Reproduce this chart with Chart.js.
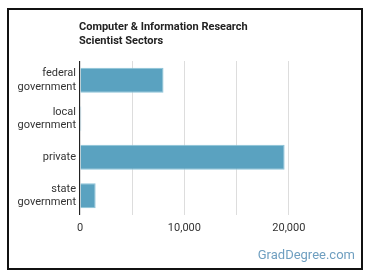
<!DOCTYPE html>
<html>
<head>
<meta charset="utf-8">
<script src="https://cdn.jsdelivr.net/npm/chart.js@4"></script>
<style>
  html, body { margin: 0; padding: 0; background: #fff; }
  #wrap { position: relative; width: 370px; height: 278px; overflow: hidden; }
  #frame { position: absolute; left: 7px; top: 8px; width: 352px; height: 258px; border: 2px solid #111; }
  #title { position: absolute; left: 79px; top: 20px; font: bold 11px Roboto, sans-serif; line-height: 14px; color: #222; }
  #brand { position: absolute; right: 15px; top: 247px; font: 13px Roboto, sans-serif; color: #6f9fc0; }
  canvas { position: absolute; left: 0; top: 0; }
</style>
</head>
<body>
<div id="wrap">
  <div id="frame"></div>
  <canvas id="c" width="370" height="278"></canvas>
  <div id="title">Computer &amp; Information Research<br>Scientist Sectors</div>
  <div id="brand">GradDegree.com</div>
</div>
<script>
const categories = [["federal", "government"], ["local", "government"], ["private"], ["state", "government"]];
const workers = [8000, 120, 19600, 1500];
const tickValues = [0, 5000, 10000, 15000, 20000];
const labeledTicks = [0, 10000, 20000];

const axisLine = {
  id: 'axisLine',
  afterDatasetsDraw(chart) {
    const { ctx, chartArea } = chart;
    const x = chart.scales.x.getPixelForValue(0);
    ctx.save();
    ctx.strokeStyle = '#222';
    ctx.lineWidth = 1;
    ctx.beginPath();
    ctx.moveTo(Math.round(x) - 0.5, chartArea.top);
    ctx.lineTo(Math.round(x) - 0.5, chartArea.bottom);
    ctx.stroke();
    ctx.restore();
  }
};

new Chart(document.getElementById('c'), {
  type: 'bar',
  data: {
    labels: categories,
    datasets: [{
      data: workers,
      backgroundColor: '#5aa2c0',
      borderColor: '#8cc3d8',
      borderWidth: 1,
      barPercentage: 0.65,
      categoryPercentage: 1
    }]
  },
  plugins: [axisLine],
  options: {
    indexAxis: 'y',
    responsive: false,
    animation: false,
    layout: { padding: { left: 10, right: 29, top: 61, bottom: 0 } },
    plugins: { legend: { display: false }, tooltip: { enabled: false } },
    scales: {
      x: {
        min: 0, max: 25000,
        afterBuildTicks: s => { s.ticks = tickValues.map(v => ({ value: v })); },
        afterFit: s => { s.height = 63; },
        grid: { color: '#dddddd', drawTicks: false },
        border: { display: false },
        ticks: {
          padding: 7,
          color: '#333',
          font: { family: 'Roboto', size: 11 },
          callback: v => labeledTicks.includes(v) ? v.toLocaleString('en-US') : ''
        }
      },
      y: {
        afterFit: s => { s.width = 70; },
        grid: { display: false, drawTicks: false },
        border: { display: false },
        ticks: {
          padding: 4,
          color: '#333',
          font: { family: 'Roboto', size: 11 }
        }
      }
    }
  }
});
</script>
</body>
</html>
